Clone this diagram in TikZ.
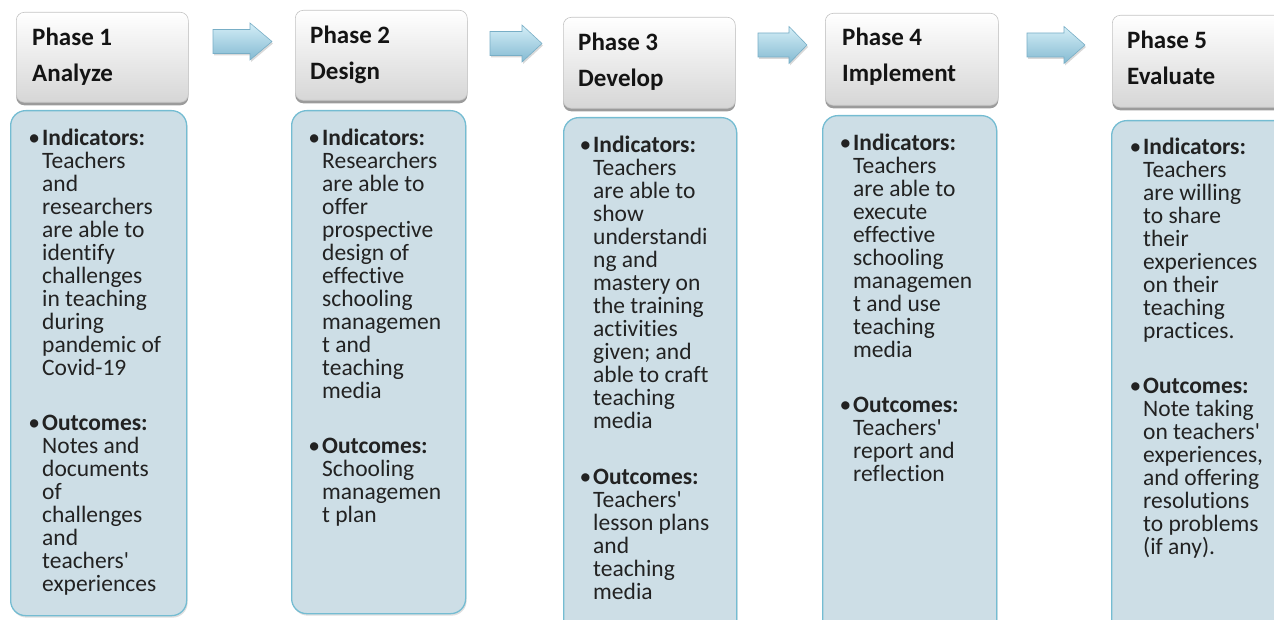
\documentclass[tikz,border=0pt]{standalone}
\usepackage{fontspec}
\setmainfont{Carlito}[Ligatures={NoCommon}]
\usetikzlibrary{shadows}
\definecolor{bodyfill}{HTML}{CDDEE6}
\definecolor{bodyline}{HTML}{74BCD2}
\definecolor{hdrline}{HTML}{C4C4C4}
\definecolor{hdrbot}{HTML}{D6D6D6}
\definecolor{txt}{HTML}{141414}
\definecolor{bodytxt}{HTML}{222222}
\definecolor{arrtop}{HTML}{D4EEF7}
\definecolor{arrbot}{HTML}{84BAD2}
\definecolor{arrline}{HTML}{78AEC6}
\tikzset{
  hdr/.style={rectangle, rounded corners=8pt, top color=white, bottom color=hdrbot,
    draw=hdrline, line width=0.6pt, anchor=north west, inner sep=0pt,
    drop shadow={shadow xshift=0pt, shadow yshift=-3pt, opacity=0.6, fill=black!65}},
  bodybox/.style={rectangle, rounded corners=15pt, fill=bodyfill, draw=bodyline,
    line width=1.3pt, anchor=north west, inner sep=0pt,
    drop shadow={shadow xshift=1pt, shadow yshift=-2pt, opacity=0.25, fill=black!50}},
  hdrtext/.style={anchor=north west, align=left, inner sep=0pt,
    font=\bfseries\fontsize{25}{36}\selectfont, text=txt},
  bodytext/.style={anchor=north west, align=left, inner sep=0pt,
    font=\fontsize{23.5}{23}\selectfont, text=bodytxt},
  blockarrow/.style={top color=arrtop, bottom color=arrbot, draw=arrline, line width=0.6pt,
    drop shadow={shadow xshift=1pt, shadow yshift=-2pt, opacity=0.3, fill=black!50}}
}
\newcommand\bul{\rule{0pt}{18pt}\llap{\textbullet\hspace{2pt}}}
\newcommand\hs{\rule{0pt}{19pt}}
\newcommand\apos{\textquotesingle}
\newcommand\blockarr[4]{%
  \path[blockarrow] (#1,#4-12) -- (#2,#4-12) -- (#2,#4-18.5) -- (#3,#4)
    -- (#2,#4+18.5) -- (#2,#4+12) -- (#1,#4+12) -- cycle;}
\begin{document}
\lineskiplimit=-100pt\relax
\begin{tikzpicture}[x=1pt, y=-1pt]
\useasboundingbox (0,0) rectangle (1274,620);
\clip (0,0) rectangle (1274,620);

% header boxes
\node[hdr, minimum width=172pt, minimum height=90pt] (h1) at (16,12) {};
\node[hdr, minimum width=172pt, minimum height=90pt] (h2) at (295,10) {};
\node[hdr, minimum width=172pt, minimum height=91pt] (h3) at (563,17) {};
\node[hdr, minimum width=173pt, minimum height=92pt] (h4) at (825,13) {};
\node[hdr, minimum width=180pt, minimum height=92pt] (h5) at (1112,15) {};

% header texts (first baseline = y + 19)
\node[hdrtext] (ht1) at (32,26.5) {\hs Phase 1\\Analyze};
\node[hdrtext] (ht2) at (310,24.5) {\hs Phase 2\\Design};
\node[hdrtext] (ht3) at (578,31) {\hs Phase 3\\Develop};
\node[hdrtext] (ht4) at (842,26.5) {\hs Phase 4\\Implement};
\node[hdrtext] (ht5) at (1127,29.5) {\hs Phase 5\\Evaluate};

% block arrows
\blockarr{213}{250}{272}{41.5}
\blockarr{490}{522}{542}{43.5}
\blockarr{758}{789}{807}{45}
\blockarr{1027}{1064}{1085}{45}

% body boxes
\node[bodybox, minimum width=176pt, minimum height=505pt] (b1) at (10,110) {};
\node[bodybox, minimum width=174pt, minimum height=503pt] (b2) at (291,110) {};
\node[bodybox, minimum width=173pt, minimum height=520pt] (b3) at (563,117) {};
\node[bodybox, minimum width=174pt, minimum height=520pt] (b4) at (822,115) {};
\node[bodybox, minimum width=180pt, minimum height=520pt] (b5) at (1111,120) {};

% body texts (first baseline = y + 18)
\node[bodytext] (bt1) at (42,127) {\bul\textbf{Indicators:}\\Teachers\\and\\researchers\\are able to\\identify\\challenges\\in teaching\\during\\pandemic of\\Covid-19\\[32pt]\bul\textbf{Outcomes:}\\Notes and\\documents\\of\\challenges\\and\\teachers\apos\\experiences};

\node[bodytext] (bt2) at (322,127) {\bul\textbf{Indicators:}\\Researchers\\are able to\\offer\\prospective\\design of\\effective\\schooling\\managemen\\t and\\teaching\\media\\[32pt]\bul\textbf{Outcomes:}\\Schooling\\managemen\\t plan};

\node[bodytext] (bt3) at (593,134) {\bul\textbf{Indicators:}\\Teachers\\are able to\\show\\understandi\\ng and\\mastery on\\the training\\activities\\given; and\\able to craft\\teaching\\media\\[33pt]\bul\textbf{Outcomes:}\\Teachers\apos\\lesson plans\\and\\teaching\\media};

\node[bodytext] (bt4) at (853,132) {\bul\textbf{Indicators:}\\Teachers\\are able to\\execute\\effective\\schooling\\managemen\\t and use\\teaching\\media\\[32pt]\bul\textbf{Outcomes:}\\Teachers\apos\\report and\\reflection};

\node[bodytext] (bt5) at (1143,136) {\bul\textbf{Indicators:}\\Teachers\\are willing\\to share\\their\\experiences\\on their\\teaching\\practices.\\[32pt]\bul\textbf{Outcomes:}\\Note taking\\on teachers\apos\\experiences,\\and offering\\resolutions\\to problems\\(if any).};
\end{tikzpicture}
\end{document}
